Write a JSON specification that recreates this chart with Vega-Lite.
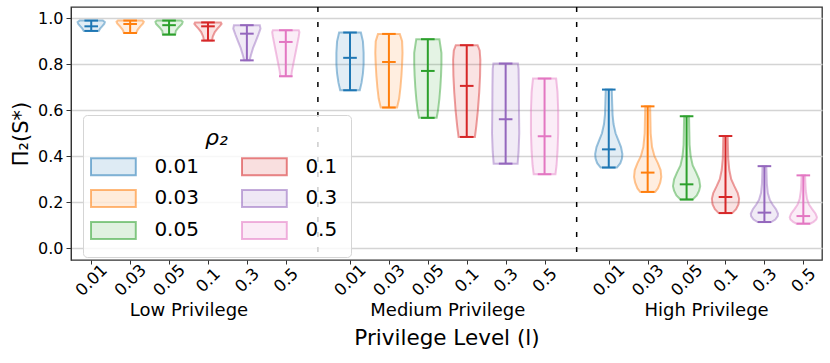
{
  "$schema": "https://vega.github.io/schema/vega-lite/v6.json",
  "autosize": {"type": "none"},
  "width": 751,
  "height": 253,
  "padding": {"left": 71, "top": 7, "right": 8, "bottom": 103},
  "datasets": {
    "violin": [
      {"lvl":"Low","r":"0.01","y":0.945,"w":0.55},{"lvl":"Low","r":"0.01","y":0.955,"w":0.65},{"lvl":"Low","r":"0.01","y":0.965,"w":0.8},{"lvl":"Low","r":"0.01","y":0.975,"w":0.95},{"lvl":"Low","r":"0.01","y":0.983,"w":1.0},{"lvl":"Low","r":"0.01","y":0.99,"w":0.85},
      {"lvl":"Low","r":"0.03","y":0.936,"w":0.45},{"lvl":"Low","r":"0.03","y":0.95,"w":0.55},{"lvl":"Low","r":"0.03","y":0.965,"w":0.75},{"lvl":"Low","r":"0.03","y":0.978,"w":0.95},{"lvl":"Low","r":"0.03","y":0.985,"w":1.0},{"lvl":"Low","r":"0.03","y":0.99,"w":0.9},
      {"lvl":"Low","r":"0.05","y":0.929,"w":0.45},{"lvl":"Low","r":"0.05","y":0.945,"w":0.5},{"lvl":"Low","r":"0.05","y":0.96,"w":0.7},{"lvl":"Low","r":"0.05","y":0.975,"w":0.95},{"lvl":"Low","r":"0.05","y":0.985,"w":1.0},{"lvl":"Low","r":"0.05","y":0.99,"w":0.9},
      {"lvl":"Low","r":"0.1","y":0.903,"w":0.3},{"lvl":"Low","r":"0.1","y":0.92,"w":0.35},{"lvl":"Low","r":"0.1","y":0.94,"w":0.5},{"lvl":"Low","r":"0.1","y":0.955,"w":0.7},{"lvl":"Low","r":"0.1","y":0.968,"w":0.9},{"lvl":"Low","r":"0.1","y":0.976,"w":1.0},{"lvl":"Low","r":"0.1","y":0.982,"w":0.95},
      {"lvl":"Low","r":"0.3","y":0.817,"w":0.2},{"lvl":"Low","r":"0.3","y":0.84,"w":0.3},{"lvl":"Low","r":"0.3","y":0.87,"w":0.45},{"lvl":"Low","r":"0.3","y":0.9,"w":0.65},{"lvl":"Low","r":"0.3","y":0.93,"w":0.85},{"lvl":"Low","r":"0.3","y":0.955,"w":1.0},{"lvl":"Low","r":"0.3","y":0.97,"w":0.95},
      {"lvl":"Low","r":"0.5","y":0.748,"w":0.4},{"lvl":"Low","r":"0.5","y":0.77,"w":0.45},{"lvl":"Low","r":"0.5","y":0.8,"w":0.55},{"lvl":"Low","r":"0.5","y":0.83,"w":0.65},{"lvl":"Low","r":"0.5","y":0.86,"w":0.75},{"lvl":"Low","r":"0.5","y":0.89,"w":0.85},{"lvl":"Low","r":"0.5","y":0.92,"w":0.95},{"lvl":"Low","r":"0.5","y":0.94,"w":1.0},{"lvl":"Low","r":"0.5","y":0.948,"w":0.95},
      {"lvl":"Medium","r":"0.01","y":0.687,"w":0.72},{"lvl":"Medium","r":"0.01","y":0.72,"w":0.85},{"lvl":"Medium","r":"0.01","y":0.76,"w":0.95},{"lvl":"Medium","r":"0.01","y":0.8,"w":1.0},{"lvl":"Medium","r":"0.01","y":0.85,"w":1.0},{"lvl":"Medium","r":"0.01","y":0.9,"w":0.95},{"lvl":"Medium","r":"0.01","y":0.938,"w":0.8},
      {"lvl":"Medium","r":"0.03","y":0.612,"w":0.6},{"lvl":"Medium","r":"0.03","y":0.65,"w":0.75},{"lvl":"Medium","r":"0.03","y":0.7,"w":0.85},{"lvl":"Medium","r":"0.03","y":0.75,"w":0.92},{"lvl":"Medium","r":"0.03","y":0.8,"w":0.97},{"lvl":"Medium","r":"0.03","y":0.85,"w":1.0},{"lvl":"Medium","r":"0.03","y":0.9,"w":0.97},{"lvl":"Medium","r":"0.03","y":0.932,"w":0.8},
      {"lvl":"Medium","r":"0.05","y":0.567,"w":0.65},{"lvl":"Medium","r":"0.05","y":0.6,"w":0.75},{"lvl":"Medium","r":"0.05","y":0.65,"w":0.85},{"lvl":"Medium","r":"0.05","y":0.7,"w":0.92},{"lvl":"Medium","r":"0.05","y":0.75,"w":0.97},{"lvl":"Medium","r":"0.05","y":0.8,"w":1.0},{"lvl":"Medium","r":"0.05","y":0.85,"w":1.0},{"lvl":"Medium","r":"0.05","y":0.909,"w":0.85},
      {"lvl":"Medium","r":"0.1","y":0.484,"w":0.6},{"lvl":"Medium","r":"0.1","y":0.53,"w":0.7},{"lvl":"Medium","r":"0.1","y":0.6,"w":0.82},{"lvl":"Medium","r":"0.1","y":0.68,"w":0.92},{"lvl":"Medium","r":"0.1","y":0.75,"w":0.98},{"lvl":"Medium","r":"0.1","y":0.82,"w":1.0},{"lvl":"Medium","r":"0.1","y":0.86,"w":0.95},{"lvl":"Medium","r":"0.1","y":0.883,"w":0.8},
      {"lvl":"Medium","r":"0.3","y":0.368,"w":0.88},{"lvl":"Medium","r":"0.3","y":0.42,"w":0.95},{"lvl":"Medium","r":"0.3","y":0.5,"w":1.0},{"lvl":"Medium","r":"0.3","y":0.6,"w":0.98},{"lvl":"Medium","r":"0.3","y":0.7,"w":0.97},{"lvl":"Medium","r":"0.3","y":0.78,"w":0.95},{"lvl":"Medium","r":"0.3","y":0.803,"w":0.9},
      {"lvl":"Medium","r":"0.5","y":0.322,"w":0.8},{"lvl":"Medium","r":"0.5","y":0.36,"w":0.88},{"lvl":"Medium","r":"0.5","y":0.42,"w":0.95},{"lvl":"Medium","r":"0.5","y":0.5,"w":1.0},{"lvl":"Medium","r":"0.5","y":0.6,"w":1.0},{"lvl":"Medium","r":"0.5","y":0.68,"w":0.95},{"lvl":"Medium","r":"0.5","y":0.738,"w":0.85},
      {"lvl":"High","r":"0.01","y":0.351,"w":0.6},{"lvl":"High","r":"0.01","y":0.37,"w":0.85},{"lvl":"High","r":"0.01","y":0.39,"w":0.97},{"lvl":"High","r":"0.01","y":0.41,"w":1.0},{"lvl":"High","r":"0.01","y":0.44,"w":0.9},{"lvl":"High","r":"0.01","y":0.47,"w":0.7},{"lvl":"High","r":"0.01","y":0.5,"w":0.5},{"lvl":"High","r":"0.01","y":0.54,"w":0.35},{"lvl":"High","r":"0.01","y":0.58,"w":0.28},{"lvl":"High","r":"0.01","y":0.63,"w":0.25},{"lvl":"High","r":"0.01","y":0.69,"w":0.22},
      {"lvl":"High","r":"0.03","y":0.245,"w":0.55},{"lvl":"High","r":"0.03","y":0.26,"w":0.75},{"lvl":"High","r":"0.03","y":0.285,"w":0.92},{"lvl":"High","r":"0.03","y":0.31,"w":1.0},{"lvl":"High","r":"0.03","y":0.34,"w":0.95},{"lvl":"High","r":"0.03","y":0.37,"w":0.75},{"lvl":"High","r":"0.03","y":0.4,"w":0.5},{"lvl":"High","r":"0.03","y":0.44,"w":0.32},{"lvl":"High","r":"0.03","y":0.5,"w":0.22},{"lvl":"High","r":"0.03","y":0.56,"w":0.2},{"lvl":"High","r":"0.03","y":0.617,"w":0.18},
      {"lvl":"High","r":"0.05","y":0.212,"w":0.45},{"lvl":"High","r":"0.05","y":0.23,"w":0.75},{"lvl":"High","r":"0.05","y":0.25,"w":0.92},{"lvl":"High","r":"0.05","y":0.27,"w":1.0},{"lvl":"High","r":"0.05","y":0.3,"w":0.92},{"lvl":"High","r":"0.05","y":0.33,"w":0.7},{"lvl":"High","r":"0.05","y":0.36,"w":0.45},{"lvl":"High","r":"0.05","y":0.4,"w":0.3},{"lvl":"High","r":"0.05","y":0.45,"w":0.22},{"lvl":"High","r":"0.05","y":0.51,"w":0.2},{"lvl":"High","r":"0.05","y":0.574,"w":0.18},
      {"lvl":"High","r":"0.1","y":0.153,"w":0.5},{"lvl":"High","r":"0.1","y":0.17,"w":0.78},{"lvl":"High","r":"0.1","y":0.19,"w":0.95},{"lvl":"High","r":"0.1","y":0.215,"w":1.0},{"lvl":"High","r":"0.1","y":0.24,"w":0.9},{"lvl":"High","r":"0.1","y":0.27,"w":0.65},{"lvl":"High","r":"0.1","y":0.3,"w":0.42},{"lvl":"High","r":"0.1","y":0.34,"w":0.28},{"lvl":"High","r":"0.1","y":0.39,"w":0.2},{"lvl":"High","r":"0.1","y":0.44,"w":0.18},{"lvl":"High","r":"0.1","y":0.488,"w":0.16},
      {"lvl":"High","r":"0.3","y":0.114,"w":0.5},{"lvl":"High","r":"0.3","y":0.125,"w":0.8},{"lvl":"High","r":"0.3","y":0.14,"w":0.98},{"lvl":"High","r":"0.3","y":0.15,"w":1.0},{"lvl":"High","r":"0.3","y":0.17,"w":0.85},{"lvl":"High","r":"0.3","y":0.19,"w":0.6},{"lvl":"High","r":"0.3","y":0.21,"w":0.4},{"lvl":"High","r":"0.3","y":0.24,"w":0.25},{"lvl":"High","r":"0.3","y":0.28,"w":0.18},{"lvl":"High","r":"0.3","y":0.32,"w":0.16},{"lvl":"High","r":"0.3","y":0.357,"w":0.14},
      {"lvl":"High","r":"0.5","y":0.107,"w":0.5},{"lvl":"High","r":"0.5","y":0.115,"w":0.75},{"lvl":"High","r":"0.5","y":0.125,"w":0.95},{"lvl":"High","r":"0.5","y":0.135,"w":1.0},{"lvl":"High","r":"0.5","y":0.15,"w":0.9},{"lvl":"High","r":"0.5","y":0.17,"w":0.65},{"lvl":"High","r":"0.5","y":0.19,"w":0.42},{"lvl":"High","r":"0.5","y":0.215,"w":0.27},{"lvl":"High","r":"0.5","y":0.25,"w":0.18},{"lvl":"High","r":"0.5","y":0.285,"w":0.15},{"lvl":"High","r":"0.5","y":0.317,"w":0.13}
    ],
    "stats": [
      {"lvl":"Low","r":"0.01","min":0.945,"med":0.965,"max":0.99},
      {"lvl":"Low","r":"0.03","min":0.936,"med":0.975,"max":0.99},
      {"lvl":"Low","r":"0.05","min":0.929,"med":0.97,"max":0.99},
      {"lvl":"Low","r":"0.1","min":0.903,"med":0.965,"max":0.982},
      {"lvl":"Low","r":"0.3","min":0.817,"med":0.933,"max":0.97},
      {"lvl":"Low","r":"0.5","min":0.748,"med":0.897,"max":0.948},
      {"lvl":"Medium","r":"0.01","min":0.687,"med":0.828,"max":0.938},
      {"lvl":"Medium","r":"0.03","min":0.612,"med":0.81,"max":0.932},
      {"lvl":"Medium","r":"0.05","min":0.567,"med":0.771,"max":0.909},
      {"lvl":"Medium","r":"0.1","min":0.484,"med":0.706,"max":0.883},
      {"lvl":"Medium","r":"0.3","min":0.368,"med":0.561,"max":0.803},
      {"lvl":"Medium","r":"0.5","min":0.322,"med":0.487,"max":0.738},
      {"lvl":"High","r":"0.01","min":0.351,"med":0.43,"max":0.69},
      {"lvl":"High","r":"0.03","min":0.245,"med":0.329,"max":0.617},
      {"lvl":"High","r":"0.05","min":0.212,"med":0.278,"max":0.574},
      {"lvl":"High","r":"0.1","min":0.153,"med":0.223,"max":0.488},
      {"lvl":"High","r":"0.3","min":0.114,"med":0.155,"max":0.357},
      {"lvl":"High","r":"0.5","min":0.107,"med":0.14,"max":0.317}
    ],
    "groups": [
      {"grp":"Low Privilege","c":250},
      {"grp":"Medium Privilege","c":915},
      {"grp":"High Privilege","c":1580}
    ],
    "seps": [{"s":582.5},{"s":1247.5}]
  },
  "resolve": {"scale": {"x": "independent"}},
  "layer": [
    {
      "data": {"name": "violin"},
      "transform": [
        {"calculate": "indexof(['Low','Medium','High'], datum.lvl)*665 + indexof(['0.01','0.03','0.05','0.1','0.3','0.5'], datum.r)*100", "as": "c"},
        {"calculate": "datum.c - datum.w*35", "as": "xl"},
        {"calculate": "datum.c + datum.w*35", "as": "xr"}
      ],
      "mark": {"type": "area", "orient": "horizontal", "fillOpacity": 0.13, "strokeOpacity": 0.45, "strokeWidth": 2, "interpolate": "linear"},
      "encoding": {
        "y": {"field": "y", "type": "quantitative",
              "scale": {"domain": [-0.051, 1.049], "nice": false, "zero": false},
              "axis": {"title": "Π₂(S*)", "titleFontSize": 21, "titleFontWeight": "normal", "titlePadding": 6,
                       "values": [0, 0.2, 0.4, 0.6, 0.8, 1.0], "format": ".1f", "labelFontSize": 16, "labelPadding": 3,
                       "tickSize": 5, "grid": true, "gridColor": "#d4d4d4", "gridWidth": 1.5, "domainColor": "#333", "tickColor": "#333"}},
        "x": {"field": "xl", "type": "quantitative", "stack": null,
              "scale": {"domain": [-52, 1878], "nice": false, "zero": false},
              "axis": {"title": null, "grid": false, "domain": false, "orient": "bottom",
                       "values": [0,100,200,300,400,500,665,765,865,965,1065,1165,1330,1430,1530,1630,1730,1830],
                       "labelExpr": "['0.01','0.03','0.05','0.1','0.3','0.5'][(datum.value % 665)/100]",
                       "labelAngle": -45, "labelAlign": "center", "labelBaseline": "middle", "labelFontSize": 16.5,
                       "labelPadding": 16, "tickSize": 4, "tickColor": "#333", "labelOverlap": false, "labelFlush": false, "labelBound": false}},
        "x2": {"field": "xr"},
        "detail": {"field": "lvl"},
        "fill": {"field": "r", "type": "nominal",
                 "scale": {"domain": ["0.01","0.03","0.05","0.1","0.3","0.5"], "range": ["#1f77b4","#ff7f0e","#2ca02c","#d62728","#9467bd","#e377c2"]},
                 "legend": {"title": "ρ₂", "orient": "none", "legendX": 12, "legendY": 108, "columns": 2,
                            "symbolType": "M-1.4,-0.53H1.4V0.53H-1.4Z", "symbolSize": 1024,
                            "labelFontSize": 20, "labelOffset": 24, "titleFontSize": 22, "titleFontStyle": "italic", "titleFontWeight": "normal",
                            "titleAnchor": "middle", "titlePadding": -1, "columnPadding": 38, "rowPadding": 2, "padding": 13.4,
                            "cornerRadius": 4, "strokeColor": "#d5d5d5", "fillColor": "rgba(255,255,255,0.8)",
                            "encode": {"symbols": {"update": {"stroke": {"scale": "fill", "field": "value"}, "strokeWidth": {"value": 2}, "fillOpacity": {"value": 0.15}, "strokeOpacity": {"value": 0.55}}}}}},
        "stroke": {"field": "r", "type": "nominal",
                 "scale": {"domain": ["0.01","0.03","0.05","0.1","0.3","0.5"], "range": ["#1f77b4","#ff7f0e","#2ca02c","#d62728","#9467bd","#e377c2"]},
                 "legend": null}
      }
    },
    {
      "data": {"name": "stats"},
      "transform": [
        {"calculate": "indexof(['Low','Medium','High'], datum.lvl)*665 + indexof(['0.01','0.03','0.05','0.1','0.3','0.5'], datum.r)*100", "as": "c"}
      ],
      "mark": {"type": "rule", "strokeWidth": 2},
      "encoding": {
        "x": {"field": "c", "type": "quantitative", "scale": {"domain": [-52, 1878], "nice": false, "zero": false}, "axis": null},
        "y": {"field": "min", "type": "quantitative"},
        "y2": {"field": "max"},
        "stroke": {"field": "r", "type": "nominal", "legend": null}
      }
    },
    {
      "data": {"name": "stats"},
      "transform": [
        {"calculate": "indexof(['Low','Medium','High'], datum.lvl)*665 + indexof(['0.01','0.03','0.05','0.1','0.3','0.5'], datum.r)*100", "as": "c"},
        {"fold": ["min", "med", "max"], "as": ["stat", "v"]},
        {"calculate": "datum.c - 17.5", "as": "cl"},
        {"calculate": "datum.c + 17.5", "as": "cr"}
      ],
      "mark": {"type": "rule", "strokeWidth": 2},
      "encoding": {
        "x": {"field": "cl", "type": "quantitative", "scale": {"domain": [-52, 1878], "nice": false, "zero": false}, "axis": null},
        "x2": {"field": "cr"},
        "y": {"field": "v", "type": "quantitative"},
        "stroke": {"field": "r", "type": "nominal", "legend": null}
      }
    },
    {
      "data": {"name": "seps"},
      "mark": {"type": "rule", "color": "black", "strokeWidth": 1.5, "strokeDash": [5, 10]},
      "encoding": {
        "x": {"field": "s", "type": "quantitative", "scale": {"domain": [-52, 1878], "nice": false, "zero": false}, "axis": null}
      }
    },
    {
      "data": {"name": "groups"},
      "mark": {"type": "point", "opacity": 0},
      "encoding": {
        "x": {"field": "c", "type": "quantitative", "scale": {"domain": [-52, 1878], "nice": false, "zero": false},
              "axis": {"orient": "bottom", "values": [250, 915, 1580],
                       "labelExpr": "datum.value == 250 ? 'Low Privilege' : (datum.value == 915 ? 'Medium Privilege' : 'High Privilege')",
                       "ticks": false, "domain": false, "grid": false, "labelAngle": 0, "labelAlign": "center", "labelBaseline": "middle",
                       "labelPadding": 50, "labelFontSize": 18, "labelOverlap": false, "labelFlush": false,
                       "title": "Privilege Level (l)", "titleFontSize": 21.5, "titleFontWeight": "normal", "titlePadding": 8}}
      }
    }
  ],
  "config": {
    "font": "DejaVu Sans",
    "view": {"stroke": "#333333", "strokeWidth": 1.3},
    "axis": {"labelColor": "black", "titleColor": "black"}
  }
}
